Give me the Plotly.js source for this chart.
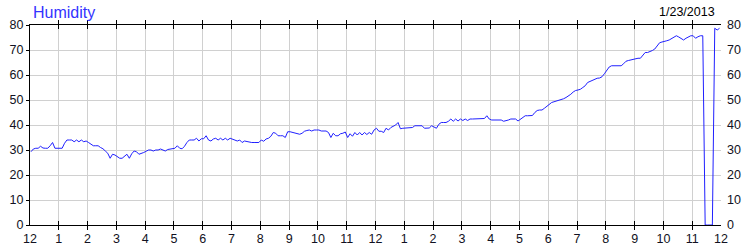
<!DOCTYPE html>
<html>
<head>
<meta charset="utf-8">
<script src="https://cdn.plot.ly/plotly-3.0.1.min.js"></script>
<style>
  html, body { margin: 0; padding: 0; background: #fff; }
  #chart { width: 750px; height: 250px; }
</style>
</head>
<body>
<div id="chart"></div>
<script>
// Humidity readings, one every 5 minutes, 1/23/2013 (midnight to midnight)
const humidity00to06 = [
  29.3, 30.4, 30.7, 30.7, 31.5, 30.8, 30.7, 30.7, 31.7, 33.0, 30.7, 30.7,
  30.7, 30.7, 32.7, 34.0, 34.0, 34.0, 33.3, 34.0, 33.3, 34.0, 33.3, 33.6,
  33.0, 32.5, 31.7, 31.7, 31.7, 31.0, 30.5, 29.6, 28.7, 26.7, 28.3, 28.0,
  27.5, 26.7, 26.7, 27.5, 28.3, 26.7, 28.5, 29.6, 29.3, 28.3, 28.5, 29.0,
  29.5, 30.0, 30.0, 29.6, 30.0, 30.0, 30.4, 30.0, 29.6, 30.2, 30.4, 30.4,
  30.7, 31.7, 30.7, 30.5, 31.5, 33.0, 34.0, 34.0, 34.0, 34.7, 33.6, 34.5
];
const humidity06to12 = [
  34.5, 35.7, 34.0, 33.6, 34.4, 34.7, 34.0, 34.7, 34.0, 34.7, 34.0, 34.7,
  34.4, 34.2, 33.6, 34.0, 33.0, 33.6, 33.3, 33.0, 33.0, 33.0, 33.0, 33.0,
  34.0, 33.5, 34.4, 34.7, 35.5, 37.0, 36.7, 35.7, 35.7, 35.7, 35.0, 37.3,
  37.3, 37.0, 37.0, 36.5, 36.3, 36.7, 37.5, 37.8, 38.0, 37.6, 38.0, 38.0,
  38.0, 37.6, 37.6, 37.6, 37.0, 35.0, 36.7, 35.7, 35.7, 36.5, 36.7, 37.2,
  35.0, 36.5, 35.5, 37.0, 36.0, 37.0, 36.0, 37.0, 36.2, 37.0, 36.3, 38.0
];
const humidity12to18 = [
  38.7, 37.5, 37.5, 37.0, 38.7, 38.0, 39.0, 39.5, 40.0, 41.0, 38.5, 38.7,
  38.7, 38.9, 38.9, 39.0, 39.7, 39.7, 39.7, 39.7, 38.7, 38.7, 38.8, 39.7,
  39.3, 38.7, 40.3, 41.0, 41.0, 41.0, 41.5, 42.4, 41.5, 42.4, 41.6, 42.4,
  41.8, 42.4, 41.8, 42.4, 42.4, 42.4, 42.4, 42.4, 42.4, 42.6, 43.7, 42.4,
  42.0, 42.0, 42.0, 42.0, 42.0, 41.5, 41.6, 42.0, 42.4, 42.4, 42.4, 41.6,
  42.4, 43.2, 43.7, 43.7, 43.7, 43.8, 45.0, 45.8, 46.0, 46.0, 46.7, 47.5
];
const humidity18to24 = [
  48.2, 49.0, 49.3, 49.6, 49.8, 50.0, 50.5, 51.0, 51.5, 52.3, 53.2, 53.8,
  54.0, 54.3, 55.0, 55.7, 57.0, 57.5, 57.8, 58.3, 58.7, 58.8, 59.3, 60.5,
  62.0, 63.2, 63.7, 63.7, 63.7, 63.7, 63.7, 64.5, 65.5, 65.8, 66.0, 66.5,
  66.7, 66.7, 66.7, 68.0, 69.0, 69.0, 69.3, 69.8, 70.4, 71.7, 72.9, 73.2,
  73.3, 73.7, 74.0, 74.5, 75.0, 75.7, 75.2, 74.5, 74.0, 74.7, 75.3, 75.7,
  75.7, 74.7, 75.3, 75.7, 75.7, 0.0, 0.0, 0.0, 0.0, 78.7, 78.0, 78.7
];
const hourLabels = ['12','1','2','3','4','5','6','7','8','9','10','11',
                    '12','1','2','3','4','5','6','7','8','9','10','11','12'];
const yTickValues = [0, 10, 20, 30, 40, 50, 60, 70, 80];
const chartTitle = 'Humidity';
const chartDate = '1/23/2013';

const humidity = [].concat(humidity00to06, humidity06to12, humidity12to18, humidity18to24);
const minutesPerSample = 5;
const sampleHours = humidity.map((_, i) => (i + 0.4) * minutesPerSample / 60);
const hourTicks = hourLabels.map((_, i) => i);

const font = 'Liberation Sans, Arial, sans-serif';
const tickFont = { family: font, size: 12.5, color: '#111122' };

const traces = [
  {
    x: sampleHours, y: humidity, type: 'scatter', mode: 'lines',
    line: { color: '#2020ff', width: 1 }, hoverinfo: 'skip', showlegend: false
  },
  {
    x: [0], y: [null], yaxis: 'y2', type: 'scatter', mode: 'lines',
    hoverinfo: 'skip', showlegend: false
  }
];

const layout = {
  width: 750, height: 250,
  margin: { l: 30, r: 29, t: 25, b: 25, pad: 0 },
  paper_bgcolor: '#ffffff', plot_bgcolor: '#ffffff',
  showlegend: false,
  title: {
    text: chartTitle, x: 33 / 750, xanchor: 'left', xref: 'container',
    y: 1 - 12 / 250, yanchor: 'middle', yref: 'container',
    font: { family: font, size: 16, color: '#3333ff' }
  },
  xaxis: {
    range: [0, 24], tickvals: hourTicks, ticktext: hourLabels,
    ticks: 'inside', ticklen: 4, tickcolor: '#000', tickwidth: 1,
    showline: true, linecolor: '#000', linewidth: 1, mirror: 'allticks',
    showgrid: true, gridcolor: '#d0d0d0', gridwidth: 1, zeroline: false,
    tickfont: tickFont, ticklabelstandoff: 2, fixedrange: true
  },
  yaxis: {
    range: [0, 80], tickvals: yTickValues,
    ticks: 'outside', ticklen: 3, tickcolor: '#000', tickwidth: 1,
    showline: true, linecolor: '#000', linewidth: 1,
    showgrid: true, gridcolor: '#d0d0d0', gridwidth: 1, zeroline: false,
    tickfont: tickFont, fixedrange: true
  },
  yaxis2: {
    range: [0, 80], tickvals: yTickValues, overlaying: 'y', side: 'right',
    ticks: '', showline: false, showgrid: false, zeroline: false,
    tickfont: tickFont, ticklabelstandoff: 5, fixedrange: true
  },
  annotations: [{
    text: chartDate, xref: 'paper', yref: 'paper',
    x: (717 - 30) / 691, xanchor: 'right',
    y: (225 - 12) / 200, yanchor: 'middle',
    showarrow: false, font: { family: font, size: 12.5, color: '#000' }
  }]
};

Plotly.newPlot('chart', traces, layout, { staticPlot: true, displayModeBar: false });
</script>
</body>
</html>
